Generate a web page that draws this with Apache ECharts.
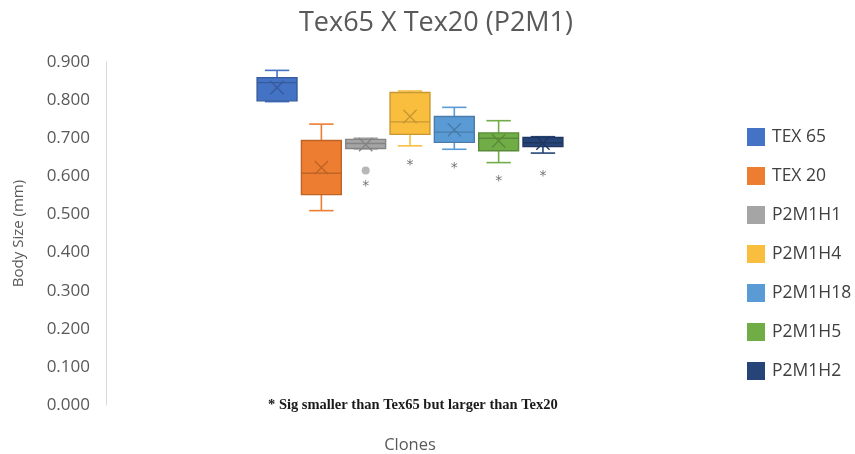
<!DOCTYPE html>
<html>
<head>
<meta charset="utf-8">
<script src="https://cdn.jsdelivr.net/npm/echarts@6/dist/echarts.min.js"></script>
<style>
  html, body { margin: 0; padding: 0; background: #fff; }
  #chart { width: 855px; height: 454px; }
</style>
</head>
<body>
<div id="chart"></div>
<script>
// Clone names, in legend order
const clones = ['TEX 65', 'TEX 20', 'P2M1H1', 'P2M1H4', 'P2M1H18', 'P2M1H5', 'P2M1H2'];
// Five-number summaries (mm): whisker low, Q1, median, Q3, whisker high
const whiskerLow  = [0.796, 0.510, 0.672, 0.680, 0.671, 0.636, 0.661];
const quartile1   = [0.798, 0.552, 0.673, 0.710, 0.689, 0.667, 0.678];
const medians     = [0.846, 0.608, 0.686, 0.743, 0.716, 0.700, 0.688];
const quartile3   = [0.859, 0.694, 0.697, 0.820, 0.757, 0.714, 0.702];
const whiskerHigh = [0.878, 0.737, 0.700, 0.824, 0.781, 0.746, 0.704];
const means       = [0.833, 0.623, 0.683, 0.757, 0.722, 0.693, 0.687];
// Outlier points: [clone index, value]
const outliers = [[2, 0.615]];
// Significance markers (*): [clone index, label height]
const sigMarks = [[2, 0.573], [3, 0.630], [4, 0.621], [5, 0.586], [6, 0.599]];
// Y-axis ticks
const yTicks = { min: 0, max: 0.9, step: 0.1 };

const colors = ['#4472C4', '#ED7D31', '#A5A5A5', '#F9BE3E', '#5B9BD5', '#70AD47', '#264478'];

function shade(hex, f) {
  const n = parseInt(hex.slice(1), 16);
  const r = Math.round(((n >> 16) & 255) * f);
  const g = Math.round(((n >> 8) & 255) * f);
  const b = Math.round((n & 255) * f);
  return 'rgb(' + r + ',' + g + ',' + b + ')';
}

const BOX_W = 0.9;   // box width in slot units
const CAP_W = 0.55;  // whisker cap width in slot units
const MEAN_W = 0.3;  // mean cross size in slot units

function makeRender(color) {
  const dark = shade(color, 0.8);
  return function (params, api) {
    const x = api.value(0);
    const pLo = api.coord([x, api.value(1)]);
    const pQ1 = api.coord([x, api.value(2)]);
    const pMd = api.coord([x, api.value(3)]);
    const pQ3 = api.coord([x, api.value(4)]);
    const pHi = api.coord([x, api.value(5)]);
    const pMn = api.coord([x, api.value(6)]);
    const bw = api.size([BOX_W, 0])[0];
    const cw = api.size([CAP_W, 0])[0];
    const mw = api.size([MEAN_W, 0])[0];
    const cx = pMd[0];
    const line = { stroke: color, lineWidth: 1.6, fill: null };
    const darkLine = { stroke: dark, lineWidth: 1.4, fill: null };
    return {
      type: 'group',
      children: [
        { type: 'line', shape: { x1: cx, y1: pHi[1], x2: cx, y2: pQ3[1] }, style: line },
        { type: 'line', shape: { x1: cx - cw / 2, y1: pHi[1], x2: cx + cw / 2, y2: pHi[1] }, style: line },
        { type: 'line', shape: { x1: cx, y1: pLo[1], x2: cx, y2: pQ1[1] }, style: line },
        { type: 'line', shape: { x1: cx - cw / 2, y1: pLo[1], x2: cx + cw / 2, y2: pLo[1] }, style: line },
        { type: 'rect', shape: { x: cx - bw / 2, y: pQ3[1], width: bw, height: pQ1[1] - pQ3[1] },
          style: { fill: color, stroke: dark, lineWidth: 1.4 } },
        { type: 'line', shape: { x1: cx - bw / 2, y1: pMd[1], x2: cx + bw / 2, y2: pMd[1] }, style: darkLine },
        { type: 'line', shape: { x1: cx - mw / 2, y1: pMn[1] - mw / 2, x2: cx + mw / 2, y2: pMn[1] + mw / 2 }, style: darkLine },
        { type: 'line', shape: { x1: cx - mw / 2, y1: pMn[1] + mw / 2, x2: cx + mw / 2, y2: pMn[1] - mw / 2 }, style: darkLine }
      ]
    };
  };
}

const boxSeries = clones.map(function (name, i) {
  return {
    name: name,
    type: 'custom',
    renderItem: makeRender(colors[i]),
    itemStyle: { color: colors[i] },
    encode: { x: 0, y: [1, 2, 3, 4, 5] },
    data: [[i + 1, whiskerLow[i], quartile1[i], medians[i], quartile3[i], whiskerHigh[i], means[i]]],
    z: 2
  };
});

const chart = echarts.init(document.getElementById('chart'), null, { renderer: 'canvas' });
const baseFont = 'Open Sans, Lato, sans-serif';

chart.setOption({
  animation: false,
  title: {
    text: 'Tex65 X Tex20 (P2M1)',
    left: 431, top: 5, textAlign: 'center',
    textStyle: { fontFamily: baseFont, fontSize: 27, fontWeight: 'normal', color: '#595959' }
  },
  legend: {
    orient: 'vertical',
    left: 747, top: 128, padding: 0,
    itemWidth: 18, itemHeight: 18, itemGap: 21,
    icon: 'rect',
    data: clones,
    textStyle: { fontFamily: baseFont, fontSize: 17.5, color: '#404040', padding: [0, 0, 0, 2] }
  },
  grid: { left: 106, right: 141, top: 62, bottom: 49, outerBoundsMode: 'none', containLabel: false },
  xAxis: {
    type: 'value',
    min: -2.86, max: 10.86,
    name: 'Clones', nameLocation: 'middle', nameGap: 32,
    nameTextStyle: { fontFamily: baseFont, fontSize: 16.5, color: '#595959' },
    axisLine: { show: false }, axisTick: { show: false },
    axisLabel: { show: false }, splitLine: { show: false }
  },
  yAxis: {
    type: 'value',
    min: yTicks.min, max: yTicks.max, interval: yTicks.step,
    name: 'Body Size (mm)', nameLocation: 'middle', nameGap: 80, nameRotate: 90,
    nameTextStyle: { fontFamily: baseFont, fontSize: 15, color: '#595959' },
    axisLine: { show: true, onZero: false, lineStyle: { color: '#D9D9D9', width: 1 } },
    axisTick: { show: false },
    splitLine: { show: false },
    axisLabel: {
      margin: 16, fontFamily: baseFont, fontSize: 17, color: '#595959',
      formatter: function (v) { return v.toFixed(3); }
    }
  },
  graphic: [{
    type: 'text', left: 268, top: 398,
    style: {
      text: '* Sig smaller than Tex65 but larger than Tex20',
      font: 'bold 14.5px "Liberation Serif", "DejaVu Serif", serif',
      fill: '#1a1a1a'
    }
  }],
  series: boxSeries.concat([
    {
      type: 'scatter',
      data: outliers.map(function (o) { return [o[0] + 1, o[1]]; }),
      symbol: 'circle', symbolSize: 8,
      itemStyle: { color: colors[2] },
      z: 3
    },
    {
      type: 'scatter',
      data: sigMarks.map(function (s) { return [s[0] + 1, s[1]]; }),
      symbolSize: 0,
      label: {
        show: true, position: 'inside', formatter: '*',
        fontFamily: 'DejaVu Sans, sans-serif', fontSize: 14, color: '#4d4d4d'
      },
      z: 3
    }
  ])
});
</script>
</body>
</html>
